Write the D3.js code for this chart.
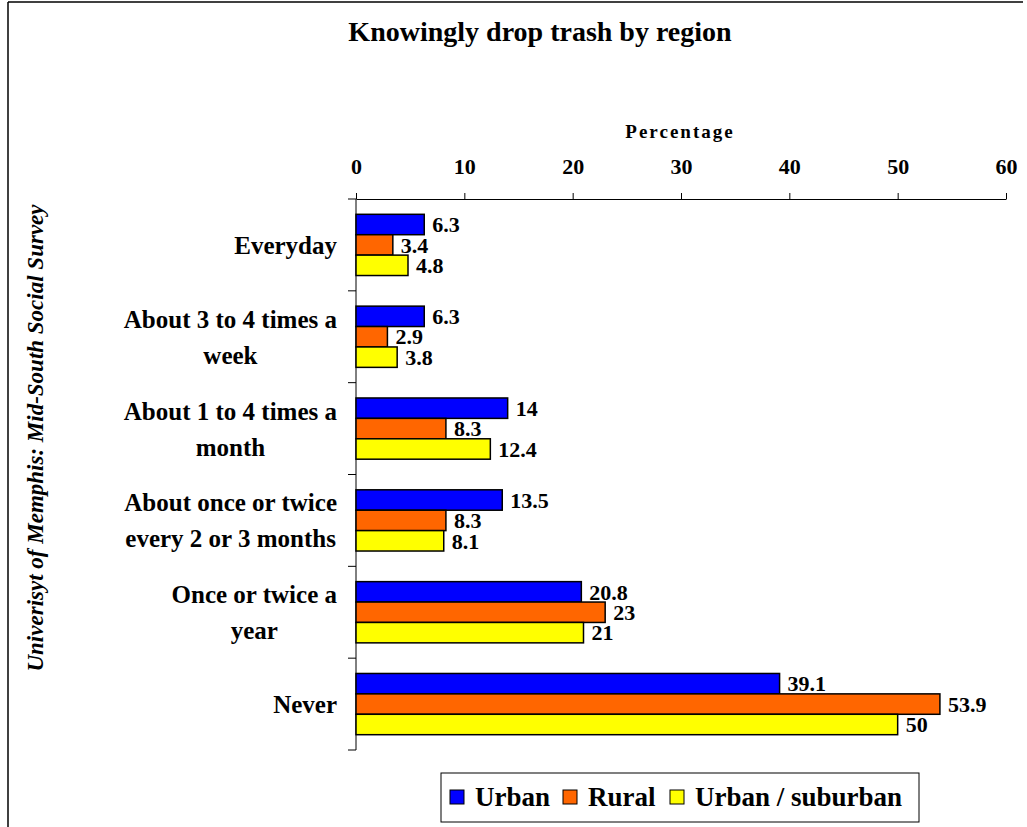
<!DOCTYPE html>
<html>
<head>
<meta charset="utf-8">
<script src="https://cdn.jsdelivr.net/npm/d3@7"></script>
<style>
  body { margin: 0; background: #fff; }
  text { font-family: "Liberation Serif", "Times New Roman", serif; font-weight: bold; fill: #000; }
</style>
</head>
<body>
<div id="chart"></div>
<script>
// categories, top to bottom (each label split in lines)
var categories = ["Everyday", "About 3 to 4 times a|week", "About 1 to 4 times a|month",
  "About once or twice|every 2 or 3 months", "Once or twice a|year", "Never"];
var series = ["Urban", "Rural", "Urban / suburban"];
var colors = ["#0000ff", "#ff6600", "#ffff00"];
var urban = [6.3, 6.3, 14, 13.5, 20.8, 39.1];
var rural = [3.4, 2.9, 8.3, 8.3, 23, 53.9];
var suburban = [4.8, 3.8, 12.4, 8.1, 21, 50];
var xTicks = [0, 10, 20, 30, 40, 50, 60];

var values = [urban, rural, suburban];

var W = 1027, H = 827;
var svg = d3.select("#chart").append("svg")
  .attr("width", W).attr("height", H);

// outer frame (left and top edges only visible)
svg.append("line").attr("x1", 8).attr("y1", 2).attr("x2", 8).attr("y2", H)
  .style("stroke", "#000").style("stroke-width", 1.5);
svg.append("line").attr("x1", 8).attr("y1", 2).attr("x2", 1023).attr("y2", 2)
  .style("stroke", "#000").style("stroke-width", 1.5);

var x = d3.scaleLinear().domain([0, 60]).range([356, 1006]);
var y = d3.scaleBand().domain(d3.range(categories.length)).range([199, 750]);
var yInner = d3.scaleBand().domain(d3.range(series.length))
  .range([0, y.bandwidth()]).paddingInner(0).paddingOuter(0.75);

// title
svg.append("text")
  .attr("x", 540).attr("y", 41)
  .style("font-size", "28px")
  .style("text-anchor", "middle")
  .text("Knowingly drop trash by region");

// x axis title
svg.append("text")
  .attr("x", 680).attr("y", 138)
  .style("font-size", "19px")
  .style("letter-spacing", "2px")
  .style("text-anchor", "middle")
  .text("Percentage");

// x axis on top
var xAxis = svg.append("g")
  .attr("transform", "translate(0,199)")
  .call(d3.axisTop(x).tickValues(xTicks).tickSize(6).tickPadding(19).tickSizeOuter(0));
xAxis.selectAll("text").style("font-size", "22px");
xAxis.selectAll("line,path").style("stroke", "#000");

// y axis: line plus ticks at category boundaries
svg.append("line")
  .attr("x1", x(0)).attr("x2", x(0))
  .attr("y1", y.range()[0]).attr("y2", y.range()[1])
  .style("stroke", "#000");
var bounds = d3.range(categories.length + 1).map(function(i) {
  return i < categories.length ? y(i) : y.range()[1];
});
svg.append("g").selectAll("line")
  .data(bounds)
  .enter().append("line")
  .attr("x1", x(0) - 8).attr("x2", x(0))
  .attr("y1", function(d) { return d; })
  .attr("y2", function(d) { return d; })
  .style("stroke", "#000");

// category labels: block right aligned, lines centred among themselves
categories.forEach(function(c, i) {
  var lines = c.split("|");
  var cy = y(i) + y.bandwidth() / 2;
  var g = svg.append("g");
  var texts = lines.map(function(l, j) {
    return g.append("text")
      .attr("y", cy + (j - (lines.length - 1) / 2) * 36 + 9)
      .style("font-size", "25px")
      .style("text-anchor", "middle")
      .text(l);
  });
  var maxW = d3.max(texts, function(t) { return t.node().getComputedTextLength(); });
  texts.forEach(function(t) { t.attr("x", 337 - maxW / 2); });
});

// bars
var groups = svg.append("g").selectAll("g")
  .data(categories)
  .enter().append("g")
  .attr("transform", function(d, i) { return "translate(0," + y(i) + ")"; });

groups.each(function(d, i) {
  var g = d3.select(this);
  series.forEach(function(s, k) {
    var v = values[k][i];
    g.append("rect")
      .attr("x", x(0))
      .attr("y", yInner(k))
      .attr("width", x(v) - x(0))
      .attr("height", yInner.bandwidth())
      .style("fill", colors[k])
      .style("stroke", "#000")
      .style("stroke-width", 1.5);
    g.append("text")
      .attr("x", x(v) + 8)
      .attr("y", yInner(k) + yInner.bandwidth() / 2)
      .attr("dy", "0.35em")
      .style("font-size", "22px")
      .text(v);
  });
});

// rotated source label
svg.append("text")
  .attr("transform", "translate(43,438) rotate(-90)")
  .style("font-size", "23px")
  .style("font-style", "italic")
  .style("text-anchor", "middle")
  .text("Univerisyt of Memphis: Mid-South Social Survey");

// legend
var legend = svg.append("g");
legend.append("rect")
  .attr("x", 441).attr("y", 773).attr("width", 478).attr("height", 49)
  .style("fill", "#fff").style("stroke", "#000").style("stroke-width", 1);
var legX = [450, 563, 670];
series.forEach(function(s, k) {
  legend.append("rect")
    .attr("x", legX[k]).attr("y", 790).attr("width", 14).attr("height", 14)
    .style("fill", colors[k]).style("stroke", "#000").style("stroke-width", 1);
  legend.append("text")
    .attr("x", legX[k] + 25).attr("y", 806)
    .style("font-size", "27px")
    .text(s);
});
</script>
</body>
</html>
